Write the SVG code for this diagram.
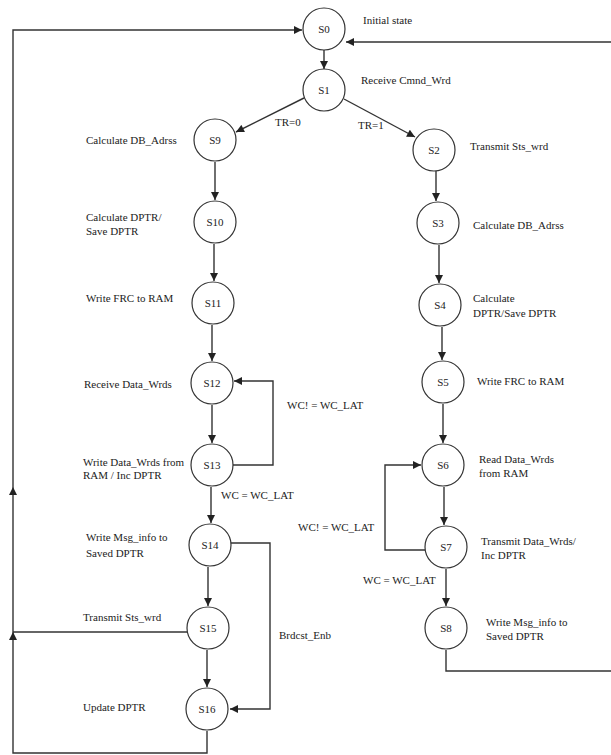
<svg xmlns="http://www.w3.org/2000/svg" width="611" height="755" viewBox="0 0 611 755">
<defs>
<marker id="arr" viewBox="0 0 10 10" refX="10" refY="5" markerWidth="9" markerHeight="8" markerUnits="userSpaceOnUse" orient="auto">
<path d="M0,0 L10,5 L0,10 Z" fill="#222"/>
</marker>
<style>
.n circle{fill:#fff;stroke:#333;stroke-width:1.2}
.n text{font-family:"Liberation Serif","Times New Roman",serif;font-size:11px;fill:#222;text-anchor:middle}
text.l{font-family:"Liberation Serif","Times New Roman",serif;font-size:11px;fill:#222}
#edges path{fill:none;stroke:#333;stroke-width:1.4}
.a{marker-end:url(#arr)}
</style>
</defs>
<rect width="611" height="755" fill="#fff"/>
<g id="edges">
<path class="a" d="M324,50 V69"/>
<path class="a" d="M304,98 L236,132"/>
<path class="a" d="M344,99 L415,137"/>
<path class="a" d="M215,162 V200"/>
<path class="a" d="M214,244 V281"/>
<path class="a" d="M212,325 V361"/>
<path class="a" d="M212,405 V443"/>
<path class="a" d="M211,487 V523"/>
<path class="a" d="M208,567 V606"/>
<path class="a" d="M207,650 V687"/>
<path class="a" d="M233,465 H273 V381 H234"/>
<path class="a" d="M231,543 H270 V709 H230"/>
<path d="M187,632 H13"/>
<path class="a" d="M207,731 V753 H13 V632"/>
<path class="a" d="M13,632 V487"/>
<path class="a" d="M13,487 V30 H302"/>
<path class="a" d="M436,171 V201"/>
<path class="a" d="M439,245 V283"/>
<path class="a" d="M442,327 V360"/>
<path class="a" d="M443,404 V443"/>
<path class="a" d="M444,487 V525"/>
<path class="a" d="M446,569 V606"/>
<path class="a" d="M425,550 H385 V465 H421"/>
<path class="a" d="M446,650 V671 H625 V42 H346"/>
</g>
<g id="S0" class="n"><circle cx="324" cy="29" r="21"/><text x="324" y="33">S0</text></g>
<g id="S1" class="n"><circle cx="324" cy="90" r="21"/><text x="324" y="94">S1</text></g>
<g id="S9" class="n"><circle cx="215" cy="140" r="21"/><text x="215" y="144">S9</text></g>
<g id="S10" class="n"><circle cx="215" cy="222" r="21"/><text x="215" y="226">S10</text></g>
<g id="S11" class="n"><circle cx="213" cy="303" r="21"/><text x="213" y="307">S11</text></g>
<g id="S12" class="n"><circle cx="212" cy="383" r="21"/><text x="212" y="387">S12</text></g>
<g id="S13" class="n"><circle cx="212" cy="465" r="21"/><text x="212" y="469">S13</text></g>
<g id="S14" class="n"><circle cx="210" cy="545" r="21"/><text x="210" y="549">S14</text></g>
<g id="S15" class="n"><circle cx="208" cy="628" r="21"/><text x="208" y="632">S15</text></g>
<g id="S16" class="n"><circle cx="207" cy="709" r="21"/><text x="207" y="713">S16</text></g>
<g id="S2" class="n"><circle cx="434" cy="150" r="21"/><text x="434" y="154">S2</text></g>
<g id="S3" class="n"><circle cx="438" cy="223" r="21"/><text x="438" y="227">S3</text></g>
<g id="S4" class="n"><circle cx="440" cy="305" r="21"/><text x="440" y="309">S4</text></g>
<g id="S5" class="n"><circle cx="443" cy="382" r="21"/><text x="443" y="386">S5</text></g>
<g id="S6" class="n"><circle cx="443" cy="465" r="21"/><text x="443" y="469">S6</text></g>
<g id="S7" class="n"><circle cx="446" cy="547" r="21"/><text x="446" y="551">S7</text></g>
<g id="S8" class="n"><circle cx="446" cy="628" r="21"/><text x="446" y="632">S8</text></g>
<g id="labels">
<text class="l" x="363" y="24">Initial state</text>
<text class="l" x="361" y="84">Receive Cmnd_Wrd</text>
<text class="l" x="275" y="126">TR=0</text>
<text class="l" x="358" y="129">TR=1</text>
<text class="l" x="86" y="144">Calculate DB_Adrss</text>
<text class="l" x="86" y="221">Calculate DPTR/</text>
<text class="l" x="86" y="235">Save DPTR</text>
<text class="l" x="86" y="302">Write FRC to RAM</text>
<text class="l" x="84" y="388">Receive Data_Wrds</text>
<text class="l" x="287" y="409">WC! = WC_LAT</text>
<text class="l" x="83" y="466">Write Data_Wrds from</text>
<text class="l" x="83" y="479">RAM / Inc DPTR</text>
<text class="l" x="221" y="499">WC = WC_LAT</text>
<text class="l" x="86" y="541">Write Msg_info to</text>
<text class="l" x="86" y="557">Saved DPTR</text>
<text class="l" x="83" y="621">Transmit Sts_wrd</text>
<text class="l" x="279" y="639">Brdcst_Enb</text>
<text class="l" x="83" y="711">Update DPTR</text>
<text class="l" x="470" y="150">Transmit Sts_wrd</text>
<text class="l" x="473" y="229">Calculate DB_Adrss</text>
<text class="l" x="473" y="302">Calculate</text>
<text class="l" x="473" y="317">DPTR/Save DPTR</text>
<text class="l" x="477" y="385">Write FRC to RAM</text>
<text class="l" x="479" y="463">Read Data_Wrds</text>
<text class="l" x="479" y="477">from RAM</text>
<text class="l" x="298" y="531">WC! = WC_LAT</text>
<text class="l" x="481" y="545">Transmit Data_Wrds/</text>
<text class="l" x="481" y="559">Inc DPTR</text>
<text class="l" x="363" y="584">WC = WC_LAT</text>
<text class="l" x="486" y="626">Write Msg_info to</text>
<text class="l" x="486" y="640">Saved DPTR</text>
</g>
</svg>
